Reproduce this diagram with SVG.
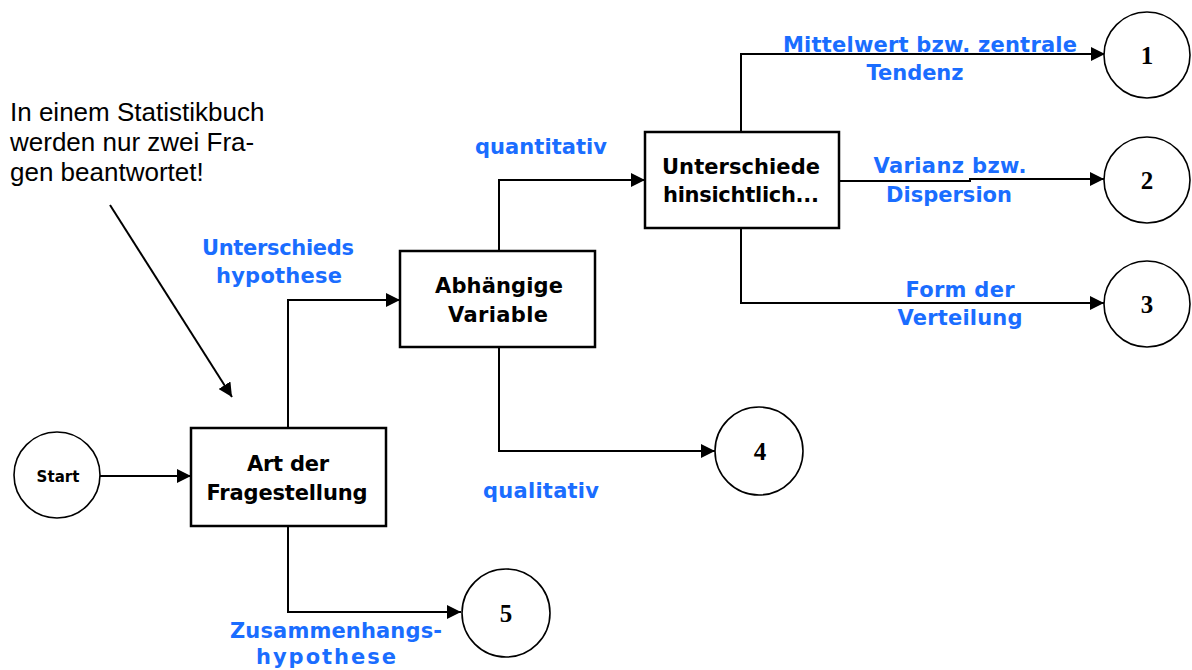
<svg xmlns="http://www.w3.org/2000/svg" width="1192" height="670" viewBox="0 0 1192 670">
<defs>
<style>
.box{fill:#fff;stroke:#000;stroke-width:2.5}
.circ{fill:#fff;stroke:#000;stroke-width:1.6}
.lbl{font-family:"DejaVu Sans",Verdana,sans-serif;font-weight:bold;font-size:21px;fill:#000;text-anchor:middle}
.num{font-family:"Liberation Serif","Times New Roman",serif;font-weight:bold;font-size:25px;fill:#000;text-anchor:middle}
.blue{font-family:"DejaVu Sans",Verdana,sans-serif;font-weight:bold;font-size:21px;fill:#1a6dff;text-anchor:middle}
.note{font-family:"Liberation Sans",Arial,sans-serif;font-size:26px;fill:#000}
.conn{fill:none;stroke:#000;stroke-width:2}
</style>
<marker id="arr" viewBox="0 0 12 12" refX="12" refY="6" markerWidth="14" markerHeight="14" markerUnits="userSpaceOnUse" orient="auto">
<path d="M0,0 L12,6 L0,12 z" fill="#000"/>
</marker>
</defs>
<rect width="1192" height="670" fill="#fff"/>

<g id="connectors">
<path class="conn" d="M100,476 L191,476" marker-end="url(#arr)"/>
<path class="conn" d="M288,428 L288,300 L400,300" marker-end="url(#arr)"/>
<path class="conn" d="M288,526 L288,612 L461,612" marker-end="url(#arr)"/>
<path class="conn" d="M499,251 L499,180 L645,180" marker-end="url(#arr)"/>
<path class="conn" d="M499,347 L499,451 L715,451" marker-end="url(#arr)"/>
<path class="conn" d="M741,132 L741,54 L1105,54" marker-end="url(#arr)"/>
<path class="conn" d="M839,181 L970,181 L970,179 L1104,179" marker-end="url(#arr)"/>
<path class="conn" d="M741,228 L741,303 L1104,303" marker-end="url(#arr)"/>
<path class="conn" d="M110,205 L232,397" stroke-width="1.6" marker-end="url(#arr)"/>
</g>

<g id="note">
<text class="note" x="10" y="121">In einem Statistikbuch</text>
<text class="note" x="10" y="151">werden nur zwei Fra-</text>
<text class="note" x="10" y="181">gen beantwortet!</text>
</g>

<g id="start">
<circle class="circ" cx="57" cy="475" r="43"/>
<text class="lbl" x="58" y="482" style="font-size:15px" textLength="43">Start</text>
</g>

<g id="art">
<rect class="box" x="191" y="428" width="195" height="98"/>
<text class="lbl" x="288" y="471" textLength="82">Art der</text>
<text class="lbl" x="287" y="500" textLength="161">Fragestellung</text>
</g>

<g id="abh">
<rect class="box" x="400" y="251" width="195" height="96"/>
<text class="lbl" x="499" y="293" textLength="128">Abhängige</text>
<text class="lbl" x="498" y="322" textLength="100">Variable</text>
</g>

<g id="unt">
<rect class="box" x="645" y="132" width="194" height="96"/>
<text class="lbl" x="741" y="174" textLength="158">Unterschiede</text>
<text class="lbl" x="741" y="202" textLength="156">hinsichtlich...</text>
</g>

<g id="n1"><circle class="circ" cx="1147" cy="55" r="43"/><text class="num" x="1147" y="64">1</text></g>
<g id="n2"><circle class="circ" cx="1147" cy="180" r="43"/><text class="num" x="1147" y="189">2</text></g>
<g id="n3"><circle class="circ" cx="1147" cy="304" r="43"/><text class="num" x="1147" y="313">3</text></g>
<g id="n4"><circle class="circ" cx="759" cy="451" r="44"/><text class="num" x="760" y="460">4</text></g>
<g id="n5"><circle class="circ" cx="506" cy="613" r="44"/><text class="num" x="506" y="622">5</text></g>

<g id="labels">
<text class="blue" x="278" y="255" textLength="152">Unterschieds</text>
<text class="blue" x="279" y="283" textLength="126">hypothese</text>
<text class="blue" x="541" y="154" textLength="132">quantitativ</text>
<text class="blue" x="541" y="498" textLength="116">qualitativ</text>
<text class="blue" x="930" y="52" textLength="294">Mittelwert bzw. zentrale</text>
<text class="blue" x="915" y="80" textLength="97">Tendenz</text>
<text class="blue" x="950" y="173" textLength="153">Varianz bzw.</text>
<text class="blue" x="949" y="202" textLength="126">Dispersion</text>
<text class="blue" x="960" y="297" textLength="109">Form der</text>
<text class="blue" x="960" y="325" textLength="125">Verteilung</text>
<text class="blue" x="336" y="638" textLength="212">Zusammenhangs-</text>
<text class="blue" x="326" y="664" textLength="140">hypothese</text>
</g>
</svg>
